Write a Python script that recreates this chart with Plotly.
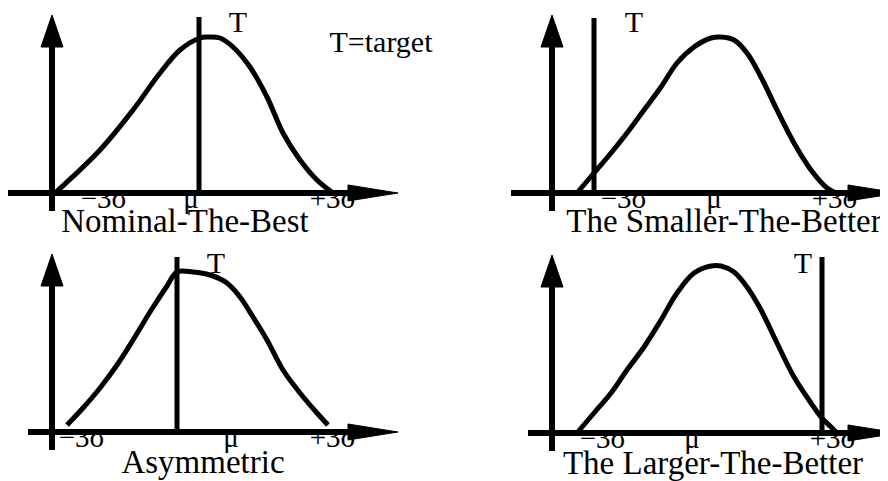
import plotly.graph_objects as go

# ---------------- data (local units: x right of y-axis, y up from x-axis) -------------
panel_titles = ["Nominal-The-Best", "The Smaller-The-Better", "Asymmetric", "The Larger-The-Better"]
tick_labels = ["\u22123\u03c3", "\u03bc", "+3\u03c3"]

nominal_x = [3, 48, 81, 108, 128, 148, 155, 168, 181, 198, 215, 231, 248, 265, 281]
nominal_y = [0, 43, 83, 120, 143, 155, 156, 155, 146, 126, 96, 60, 33, 13, 0]

smaller_x = [25, 42, 59, 75, 92, 109, 125, 142, 159, 169, 182, 195, 209, 225, 242, 259, 275, 284]
smaller_y = [0, 20, 40, 60, 83, 106, 130, 146, 155, 156, 153, 140, 116, 83, 50, 23, 5, 0]

asym_x = [15, 31, 48, 65, 81, 98, 115, 125, 141, 158, 175, 188, 201, 215, 231, 248, 265, 276]
asym_y = [7, 24, 44, 67, 92, 120, 146, 160, 160, 157, 149, 135, 115, 92, 62, 39, 19, 7]

larger_x = [25, 42, 59, 75, 92, 109, 125, 142, 159, 169, 182, 195, 209, 225, 242, 259, 269, 279, 285]
larger_y = [0, 20, 40, 63, 86, 113, 140, 160, 167, 167, 161, 146, 123, 90, 56, 30, 16, 6, 0]

target_x = [147, 42, 125, 270]          # position of the T line in each panel
target_top = [176, 175, 175, 176]
tlabel_x = [186, 82, 164, 251]
tlabel_y = [169, 169, 167, 168]

tick_x = [[52, 139, 281], [72, 162, 283], [30, 179, 281], [51, 140, 281]]
title_x = [133, 172, 151, 161]
title_y = [-31, -31, -33, -33]

xaxis_start = [-44, -41, -24, -24]

# ---------------- layout helpers --------------------------------------------
origins = [(52, 193), (552, 193), (52, 432), (552, 433)]
curves = [(nominal_x, nominal_y), (smaller_x, smaller_y), (asym_x, asym_y), (larger_x, larger_y)]

FONT = '"Liberation Serif", "Times New Roman", Times, "DejaVu Serif", serif'
BLACK = "black"
AX_W = 6
CURVE_W = 5
T_W = 5
ARROW_BASE_X, ARROW_TIP_X, ARROW_HALF_H = 296, 346, 8
VAXIS_BOTTOM, VARROW_BASE, VARROW_TIP, VARROW_HALF_W = -18, 146, 178, 11

PAGE_OFFSET = 8  # default body margin of the html page

fig = go.Figure()


def P(o, xs, ys):
    ox, oy = o
    return [ox + x for x in xs], [oy - y for y in ys]


for i, o in enumerate(origins):
    # tick labels (drawn first so the axis covers their tops)
    xs, ys = P(o, tick_x[i], [-8, -8, -8])
    fig.add_trace(go.Scatter(x=xs, y=ys, mode="text", text=tick_labels,
                             textposition="middle center",
                             textfont=dict(family=FONT, size=29, color=BLACK),
                             hoverinfo="skip"))
    # white mask above the axis hiding label tops
    mx, my = P(o, [xaxis_start[i], ARROW_BASE_X, ARROW_BASE_X, xaxis_start[i]], [0, 0, 14, 14])
    fig.add_trace(go.Scatter(x=mx, y=my, mode="lines", fill="toself", fillcolor="white",
                             line=dict(width=0, color="white"), hoverinfo="skip"))

for i, o in enumerate(origins):
    cx, cy = curves[i]
    xs, ys = P(o, cx, cy)
    fig.add_trace(go.Scatter(x=xs, y=ys, mode="lines",
                             line=dict(color=BLACK, width=CURVE_W, shape="spline", smoothing=1.0),
                             hoverinfo="skip"))
    # target line
    xs, ys = P(o, [target_x[i], target_x[i]], [0, target_top[i]])
    fig.add_trace(go.Scatter(x=xs, y=ys, mode="lines", line=dict(color=BLACK, width=T_W),
                             hoverinfo="skip"))
    # horizontal axis
    xs, ys = P(o, [xaxis_start[i], ARROW_BASE_X + 2], [0, 0])
    fig.add_trace(go.Scatter(x=xs, y=ys, mode="lines", line=dict(color=BLACK, width=AX_W),
                             hoverinfo="skip"))
    xs, ys = P(o, [ARROW_BASE_X, ARROW_TIP_X, ARROW_BASE_X, ARROW_BASE_X],
               [ARROW_HALF_H, 0, -ARROW_HALF_H, ARROW_HALF_H])
    fig.add_trace(go.Scatter(x=xs, y=ys, mode="lines", fill="toself", fillcolor=BLACK,
                             line=dict(color=BLACK, width=1), hoverinfo="skip"))
    # vertical axis
    xs, ys = P(o, [0, 0], [VAXIS_BOTTOM, VARROW_BASE + 2])
    fig.add_trace(go.Scatter(x=xs, y=ys, mode="lines", line=dict(color=BLACK, width=AX_W),
                             hoverinfo="skip"))
    xs, ys = P(o, [-VARROW_HALF_W, 0, VARROW_HALF_W, -VARROW_HALF_W],
               [VARROW_BASE, VARROW_TIP, VARROW_BASE, VARROW_BASE])
    fig.add_trace(go.Scatter(x=xs, y=ys, mode="lines", fill="toself", fillcolor=BLACK,
                             line=dict(color=BLACK, width=1), hoverinfo="skip"))
    # T label
    xs, ys = P(o, [tlabel_x[i]], [tlabel_y[i]])
    fig.add_trace(go.Scatter(x=xs, y=ys, mode="text", text=["T"], textposition="middle center",
                             textfont=dict(family=FONT, size=30, color=BLACK), hoverinfo="skip"))
    # title
    xs, ys = P(o, [title_x[i]], [title_y[i]])
    fig.add_trace(go.Scatter(x=xs, y=ys, mode="text", text=[panel_titles[i]],
                             textposition="middle center",
                             textfont=dict(family=FONT, size=33, color=BLACK), hoverinfo="skip"))

# legend-like note
xs, ys = P(origins[0], [329], [149])
fig.add_trace(go.Scatter(x=xs, y=ys, mode="text", text=["T=target"], textposition="middle center",
                         textfont=dict(family=FONT, size=30, color=BLACK), hoverinfo="skip"))

for tr in fig.data:
    tr.cliponaxis = False

fig.update_layout(
    width=888 - PAGE_OFFSET, height=481 - PAGE_OFFSET,
    margin=dict(l=0, r=0, t=0, b=0),
    paper_bgcolor="white", plot_bgcolor="white",
    showlegend=False,
    font=dict(family=FONT),
    xaxis=dict(range=[PAGE_OFFSET, 888], visible=False, fixedrange=True),
    yaxis=dict(range=[481, PAGE_OFFSET], visible=False, fixedrange=True),
)

fig.write_html("out.html")
